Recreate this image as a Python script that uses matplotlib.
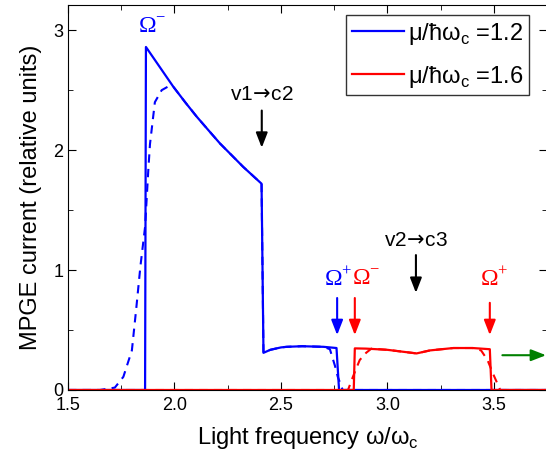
import numpy as np
import matplotlib
matplotlib.use('Agg')
import matplotlib.pyplot as plt
from matplotlib.ticker import MultipleLocator

plt.rcParams['font.family'] = ['Liberation Sans', 'DejaVu Sans']

# mu/hw_c = 1.2, solid (azul)
x_b = [1.50, 1.862, 1.866, 1.932, 1.994, 2.05, 2.104, 2.16, 2.214, 2.27, 2.323, 2.409,
       2.418, 2.45, 2.50, 2.527, 2.60, 2.70, 2.761, 2.773, 3.75]
y_b = [0.0, 0.0, 2.86, 2.69, 2.53, 2.40, 2.28, 2.165, 2.055, 1.955, 1.86, 1.72,
       0.31, 0.335, 0.355, 0.36, 0.365, 0.36, 0.35, 0.0, 0.0]

# mu/hw_c = 1.2, dashed
x_bd = [1.50, 1.65, 1.72, 1.76, 1.80, 1.82, 1.84, 1.862, 1.877, 1.885, 1.908, 1.94,
        1.97, 1.994, 2.05, 2.104, 2.16, 2.214, 2.27, 2.323, 2.409,
        2.418, 2.45, 2.50, 2.527, 2.60, 2.70, 2.73, 2.754, 2.767, 2.79, 3.75]
y_bd = [0.0, 0.0, 0.02, 0.11, 0.33, 0.67, 1.03, 1.36, 1.83, 2.05, 2.40, 2.50,
        2.53, 2.53, 2.40, 2.28, 2.165, 2.055, 1.955, 1.86, 1.72,
        0.31, 0.335, 0.355, 0.36, 0.365, 0.36, 0.34, 0.20, 0.11, 0.0, 0.0]

# mu/hw_c = 1.6, solid (rojo)
x_r = [1.50, 2.842, 2.847, 2.90, 3.00, 3.137, 3.20, 3.31, 3.40, 3.481, 3.489, 3.75]
y_r = [0.0, 0.0, 0.347, 0.345, 0.335, 0.305, 0.33, 0.35, 0.35, 0.34, 0.0, 0.0]

# mu/hw_c = 1.6, dashed
x_rd = [1.50, 2.815, 2.838, 2.87, 2.90, 2.925, 3.00, 3.137, 3.20, 3.31, 3.40, 3.44,
        3.47, 3.50, 3.53, 3.75]
y_rd = [0.0, 0.0, 0.11, 0.25, 0.31, 0.345, 0.335, 0.305, 0.33, 0.35, 0.35, 0.33,
        0.25, 0.12, 0.0, 0.0]

fig = plt.figure(figsize=(5.46, 4.62), dpi=100)
ax = fig.add_axes([68 / 546, 1 - 390 / 462, 1 - 68 / 546 + 0.002, (390 - 5) / 462])

ax.plot(x_bd, y_bd, color='#0000ff', lw=1.5, ls=(0, (4, 3)))
ax.plot(x_rd, y_rd, color='#ff0000', lw=1.5, ls=(0, (4, 3)))
ax.plot(x_b, y_b, color='#0000ff', lw=1.6, label='μ/ħω$_\\mathregular{c}$ =1.2')
ax.plot(x_r, y_r, color='#ff0000', lw=1.6, label='μ/ħω$_\\mathregular{c}$ =1.6')

ax.set_xlim(1.5, 3.75)
ax.set_ylim(0, 3.21)
ax.xaxis.set_minor_locator(MultipleLocator(0.25))
ax.yaxis.set_major_locator(MultipleLocator(1))
ax.yaxis.set_minor_locator(MultipleLocator(0.5))
ax.set_xticks([1.5, 2.0, 2.5, 3.0, 3.5])
ax.set_xticklabels(['1.5', '2.0', '2.5', '3.0', '3.5'])
ax.tick_params(which='both', direction='in', top=True, right=True, labelsize=13)
ax.tick_params(which='major', length=6)
ax.tick_params(which='minor', length=3.5)
ax.tick_params(axis='x', pad=5)

ax.set_xlabel('Light frequency ω/ω$_\\mathregular{c}$', fontsize=17, labelpad=8)
ax.set_ylabel('MPGE current (relative units)', fontsize=17, labelpad=8)

# etiquetas de transiciones
serif = ['Liberation Serif', 'DejaVu Serif']
ax.text(1.829, 3.025, 'Ω$^\\mathregular{-}$', color='#0000ff', fontsize=17,
        family=serif, ha='left', va='center')
ax.text(2.41, 2.46, 'v1$\\!\\rightarrow\\!$c2', color='black', fontsize=15,
        ha='center', va='center')
ax.text(3.134, 1.25, 'v2$\\!\\rightarrow\\!$c3', color='black', fontsize=15,
        ha='center', va='center')
ax.text(2.70, 0.925, 'Ω$^\\mathregular{+}$', color='#0000ff', fontsize=17,
        family=serif, ha='left', va='center')
ax.text(2.832, 0.925, 'Ω$^\\mathregular{-}$', color='#ff0000', fontsize=17,
        family=serif, ha='left', va='center')
ax.text(3.434, 0.925, 'Ω$^\\mathregular{+}$', color='#ff0000', fontsize=17,
        family=serif, ha='left', va='center')

flechas = [
    (2.41, 2.33, 2.02, 'black'),
    (3.134, 1.125, 0.81, 'black'),
    (2.764, 0.767, 0.458, '#0000ff'),
    (2.847, 0.767, 0.458, '#ff0000'),
    (3.481, 0.727, 0.458, '#ff0000'),
]
for xa, y0, y1, c in flechas:
    ax.annotate('', xy=(xa, y1), xytext=(xa, y0),
                arrowprops=dict(arrowstyle='-|>,head_length=0.9,head_width=0.35',
                                color=c, lw=1.5, shrinkA=0, shrinkB=0))

ax.annotate('', xy=(3.745, 0.29), xytext=(3.54, 0.29), annotation_clip=False,
            arrowprops=dict(arrowstyle='-|>,head_length=0.9,head_width=0.35',
                            color='#008000', lw=1.5, shrinkA=0, shrinkB=0))

leg = ax.legend(loc='upper right', bbox_to_anchor=(0.962, 0.975), borderaxespad=0,
                fontsize=17, frameon=True, fancybox=False, edgecolor='black',
                handlelength=2.2, handletextpad=0.15, borderpad=0.25,
                labelspacing=0.72)
leg.get_frame().set_linewidth(1.0)

fig.savefig('out.png', dpi=100)
